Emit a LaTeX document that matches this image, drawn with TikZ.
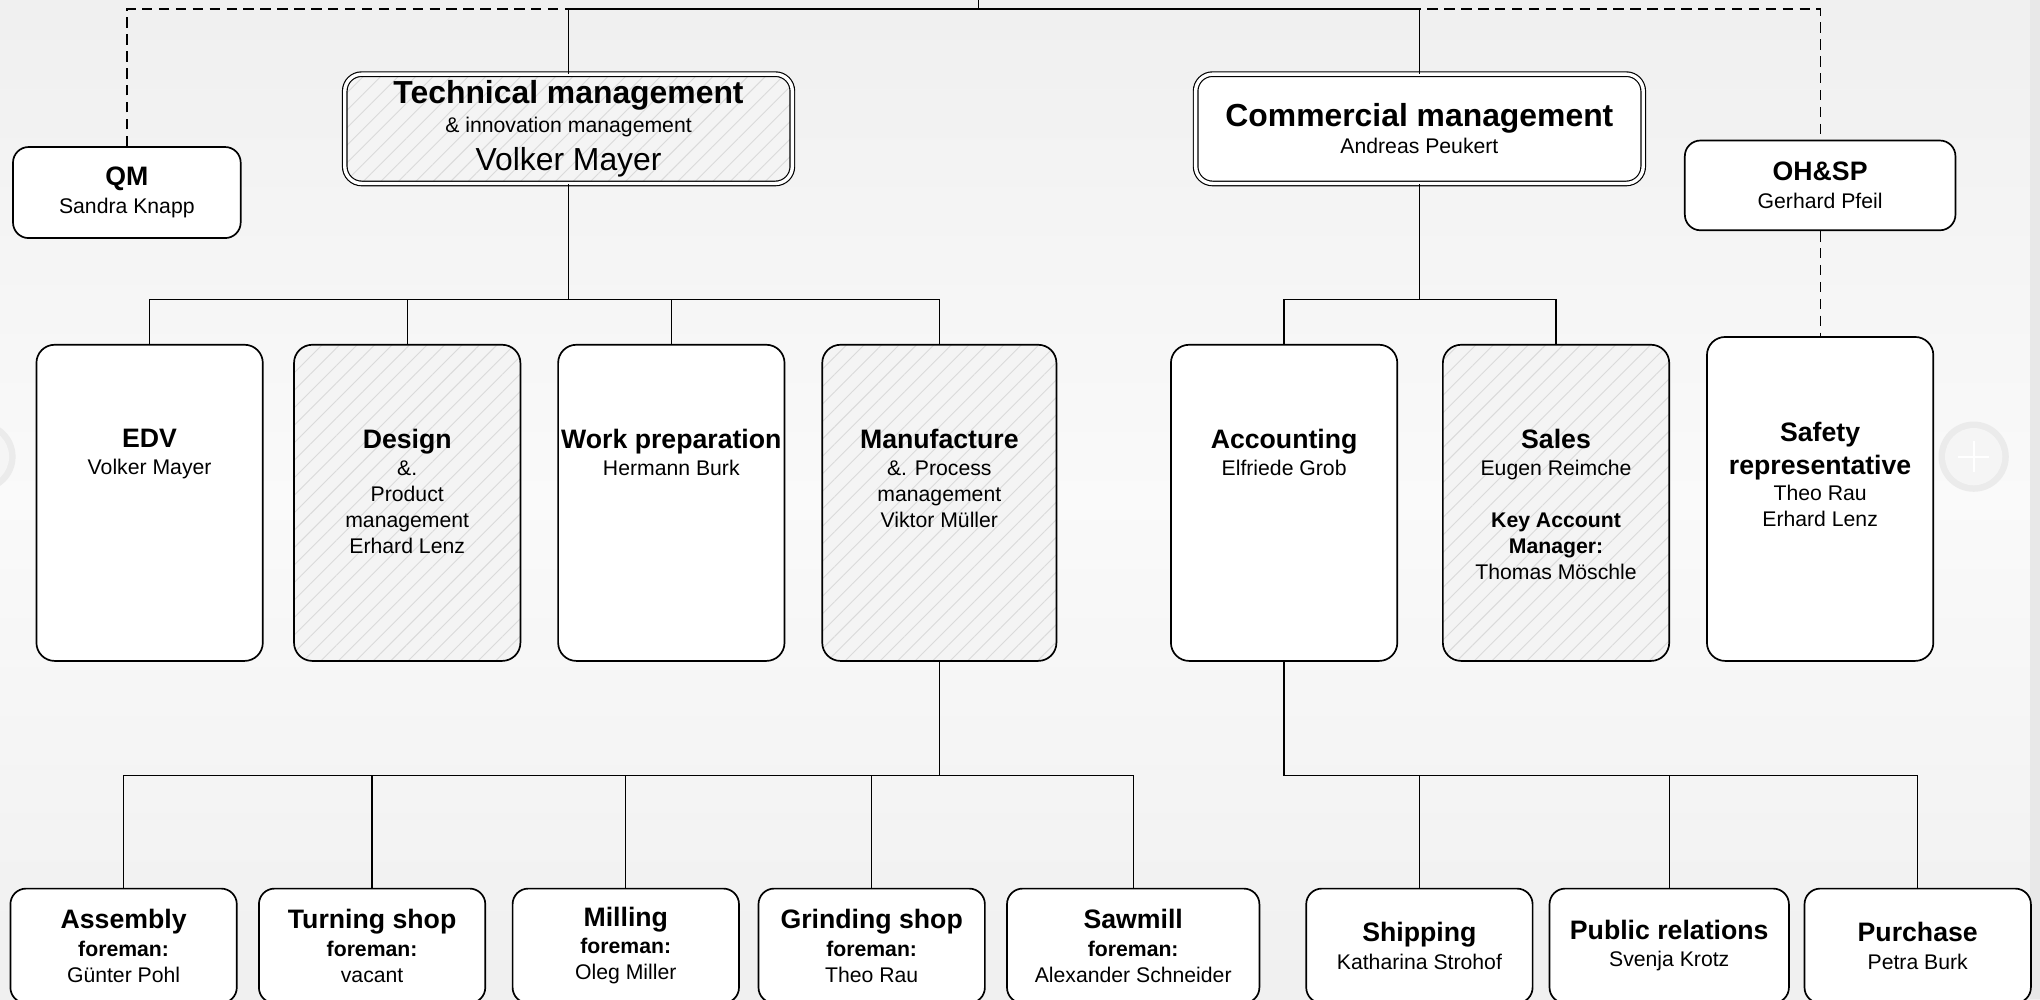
\documentclass[tikz,border=0pt]{standalone}
\usepackage{fontspec}
\setmainfont{Liberation Sans}
\usetikzlibrary{calc,patterns.meta}

\definecolor{hatchbg}{HTML}{F4F4F4}
\definecolor{hatchln}{HTML}{DADADA}
\newcommand{\hd}[1]{{\bfseries\fontsize{20.5}{20}\selectfont #1}}
\newcommand{\hdbig}[1]{{\bfseries\fontsize{24.5}{22}\selectfont #1}}

\tikzset{
  box/.style={draw, line width=1.3pt, rounded corners=12pt, fill=white,
    minimum width=174pt, inner sep=0pt, align=center},
  tall/.style={box, minimum height=243pt, rounded corners=14pt},
  low/.style={box, minimum height=88pt},
  mgmt/.style={box, double, double distance=2.6pt, line width=0.9pt,
    rounded corners=13pt, minimum width=344pt, minimum height=84pt},
  hatch/.style={preaction={fill=hatchbg},
    pattern={Lines[angle=45,distance=9.5pt,line width=0.7pt]}, pattern color=hatchln},
  txt/.style={anchor=north, inner sep=0pt, align=center},
  ln/.style={line width=1pt},
  dashln/.style={line width=1pt, dash pattern=on 8pt off 5pt}
}

\begin{document}
\begin{tikzpicture}[x=1pt, y=-1pt, font=\fontsize{16.3}{20}\selectfont]
  \useasboundingbox (0,0) rectangle (1568,768);
  \shade[top color=black!6, bottom color=black!6, middle color=black!2] (0,0) rectangle (1568,768);
  \fill[black!9] (1560,0) rectangle (1568,768);

  % scroll buttons
  \fill[black!8] (-15,351) circle (27pt);
  \fill[black!4] (-15,351) circle (22pt);
  \fill[black!8] (1517,351) circle (27pt);
  \fill[black!4] (1517,351) circle (22pt);
  \draw[white, line width=1.6pt] (1505,351) -- (1529,351) (1517,339) -- (1517,363);

  % management
  \node[mgmt, hatch] (tech) at (437,99)
    {\hdbig{Technical management}\\[2pt]\& innovation management\\[7pt]{\fontsize{24.5}{22}\selectfont Volker Mayer}};
  \node[mgmt] (comm) at (1091,99) {\hdbig{Commercial management}\\[1pt]Andreas Peukert};
  \node[box, minimum width=175pt, minimum height=70pt] (qm) at (97.5,148) {\hd{QM}\\[2pt]Sandra Knapp};
  \node[box, minimum width=208pt, minimum height=69pt] (oh) at (1399,142.5) {\hd{OH\&SP}\\[2pt]Gerhard Pfeil};

  % departments
  \node[tall] (edv) at (115,386.5) {};
  \node[tall, hatch] (design) at (313,386.5) {};
  \node[tall] (wprep) at (516,386.5) {};
  \node[tall, hatch, minimum width=180pt] (manuf) at (722,386.5) {};
  \node[tall] (acc) at (987,386.5) {};
  \node[tall, hatch] (sales) at (1196,386.5) {};
  \node[tall, minimum height=249pt] (safety) at (1399,383.5) {};

  \node[txt] (edvT) at ($(edv.north)+(0,65)$) {\hd{EDV}\\[1pt]Volker Mayer};
  \node[txt] (designT) at ($(design.north)+(0,65)$) {\hd{Design}\\[1pt]\&.\\Product\\management\\Erhard Lenz};
  \node[txt] (wprepT) at ($(wprep.north)+(0,65)$) {\hd{Work preparation}\\[1pt]Hermann Burk};
  \node[txt] (manufT) at ($(manuf.north)+(0,65)$) {\hd{Manufacture}\\[1pt]\&. Process\\management\\Viktor Müller};
  \node[txt] (accT) at ($(acc.north)+(0,65)$) {\hd{Accounting}\\[1pt]Elfriede Grob};
  \node[txt] (salesT) at ($(sales.north)+(0,65)$)
    {\hd{Sales}\\[1pt]Eugen Reimche\\[20pt]\textbf{Key Account}\\\textbf{Manager:}\\Thomas Möschle};
  \node[txt] (safetyT) at ($(safety.north)+(0,66)$) {\hd{Safety}\\[5pt]\hd{representative}\\Theo Rau\\Erhard Lenz};

  % workshops and offices
  \node[low] (assembly) at (95,727) {\hd{Assembly}\\[1pt]\textbf{foreman:}\\Günter Pohl};
  \node[low] (turning) at (286,727) {\hd{Turning shop}\\[1pt]\textbf{foreman:}\\vacant};
  \node[low] (milling) at (481,727) {\hd{Milling}\\[1pt]\textbf{foreman:}\\Oleg Miller};
  \node[low] (grinding) at (670,727) {\hd{Grinding shop}\\[1pt]\textbf{foreman:}\\Theo Rau};
  \node[low, minimum width=194pt] (sawmill) at (871,727) {\hd{Sawmill}\\[1pt]\textbf{foreman:}\\Alexander Schneider};
  \node[low] (shipping) at (1091,727) {\hd{Shipping}\\[1pt]Katharina Strohof};
  \node[low, minimum width=184pt] (pr) at (1283,727) {\hd{Public relations}\\[1pt]Svenja Krotz};
  \node[low] (purchase) at (1474,727) {\hd{Purchase}\\[1pt]Petra Burk};

  \coordinate (top) at (752,7);
  \coordinate (up) at (752,-2);
  \coordinate (tbar) at (437,230);
  \coordinate (cbar) at (1091,230);
  \coordinate (mbar) at (722,596);
  \coordinate (abar) at (987,596);

  % connectors
  \draw[dashln] (qm.north) -- (qm.north |- top) -- (oh.north |- top) -- (oh.north);
  \draw[dashln] (oh.south) -- (safety.north);
  \draw[ln] (tech.north) |- (top) -| (comm.north);
  \draw[ln] (top) -- (up);

  \draw[ln] (tech.south) -- (tbar);
  \draw[ln] (edv.north) |- (tbar) -| (manuf.north);
  \foreach \n in {design,wprep}
    \draw[ln] (\n.north) -- (\n.north |- tbar);

  \draw[ln] (comm.south) -- (cbar);
  \draw[ln] (acc.north) |- (cbar) -| (sales.north);

  \draw[ln] (manuf.south) -- (mbar);
  \draw[ln] (assembly.north) |- (mbar) -| (sawmill.north);
  \foreach \n in {turning,milling,grinding}
    \draw[ln] (\n.north) -- (\n.north |- mbar);

  \draw[ln] (acc.south) -- (abar) -| (purchase.north);
  \foreach \n in {shipping,pr}
    \draw[ln] (\n.north) -- (\n.north |- abar);
\end{tikzpicture}
\end{document}
